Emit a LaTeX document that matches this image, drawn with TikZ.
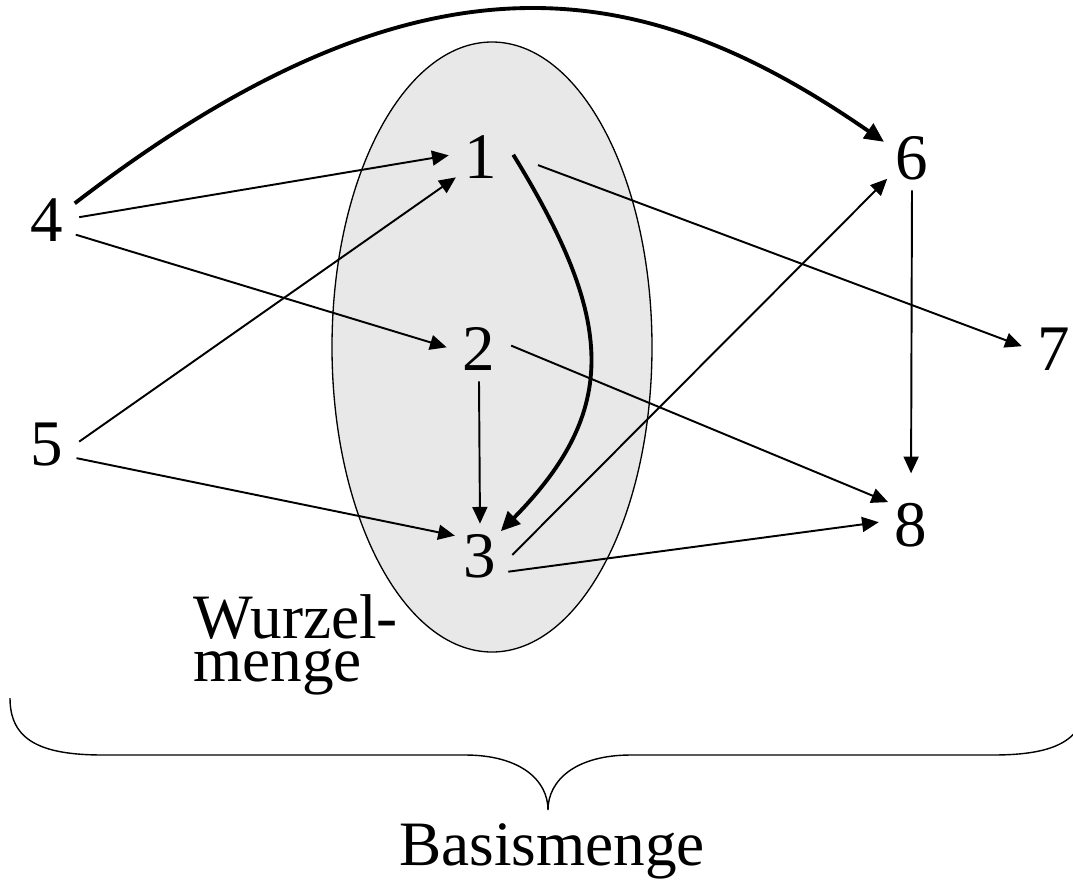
\documentclass[tikz,border=0pt]{standalone}
\usepackage{fontspec}
\setmainfont{Liberation Serif}
\usetikzlibrary{arrows.meta}

\tikzset{
  num/.style={circle, inner sep=0pt, minimum size=1.28cm, font=\fontsize{37pt}{40pt}\selectfont},
  lbl/.style={inner sep=0pt, font=\fontsize{36pt}{24pt}\selectfont},
  edge/.style={-{Triangle[length=9.5pt,width=8.5pt]}, line width=1.1pt},
  bold edge/.style={-{Triangle[length=11pt,width=10pt]}, line width=2.2pt},
}

\begin{document}
\begin{tikzpicture}[x=0.02cm, y=-0.02cm]
        \useasboundingbox (0,0) rectangle (1073,880);
        \draw[fill=black!9, line width=0.75pt] (492,347) ellipse [x radius=160, y radius=305];

        \node[num] (n1) at (481,157) {1};
        \node[num] (n2) at (479,349) {2};
        \node[num] (n3) at (480,556) {3};
        \node[num] (n4) at (47,220) {4};
        \node[num] (n5) at (47,445) {5};
        \node[num] (n6) at (912,158) {6};
        \node[num] (n7) at (1054,349) {7};
        \node[num] (n8) at (911,525) {8};

        \draw[edge] (n4.5) -- (n1.177);
        \draw[edge] (n4.-27) -- (n2.177);
        \draw[edge] (n5.6) -- (n1.219);
        \draw[edge] (n5.-24) -- (n3.141);
        \draw[edge] (n2.-90) -- (n3.90);
        \draw[edge, shorten <=15pt] (n1.2) -- (n7.175);
        \draw[edge] (n2.6) -- (n8.135);
        \draw[edge] (n3.2) -- (n6.220);
        \draw[edge] (n3.-29) -- (n8.175);
        \draw[edge, shorten >=11pt] (n6.-90) -- (n8.90);

        \draw[bold edge] (n4.31) .. controls (430,-70) and (650,-20) .. (n6.150);
        \draw[bold edge] (n1.4) .. controls (615,320) and (620,410) .. (n3.50);

        \node[lbl, align=left, anchor=base west] (wurzel) at (193,681) {Wurzel-\\menge};
        \node[lbl, anchor=base] (basis) at (552,865) {Basismenge};

        \draw[line width=0.8pt] (10,698) .. controls (10,740) and (40,755) .. (103,755)
            -- (465,755) .. controls (520,755) and (548,780) .. (548,810)
            .. controls (548,780) and (576,755) .. (631,755)
            -- (993,755) .. controls (1056,755) and (1086,740) .. (1086,698);
\end{tikzpicture}
\end{document}
